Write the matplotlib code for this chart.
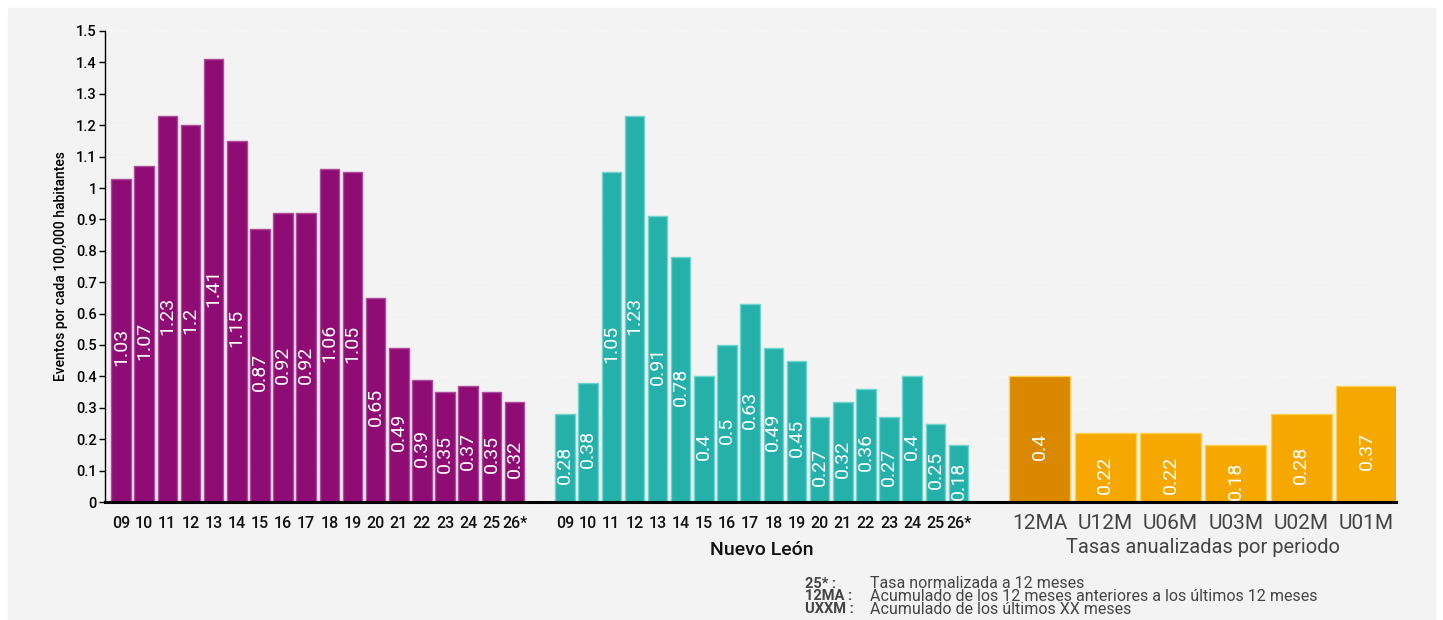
import numpy as np
import matplotlib.pyplot as plt
from matplotlib.patches import Rectangle

plt.rcParams['font.family'] = ['Roboto', 'DejaVu Sans']

years = ["09", "10", "11", "12", "13", "14", "15", "16", "17",
         "18", "19", "20", "21", "22", "23", "24", "25", "26*"]
purple_vals = [1.03, 1.07, 1.23, 1.2, 1.41, 1.15, 0.87, 0.92, 0.92,
               1.06, 1.05, 0.65, 0.49, 0.39, 0.35, 0.37, 0.35, 0.32]
teal_vals = [0.28, 0.38, 1.05, 1.23, 0.91, 0.78, 0.4, 0.5, 0.63,
             0.49, 0.45, 0.27, 0.32, 0.36, 0.27, 0.4, 0.25, 0.18]
periods = ["12MA", "U12M", "U06M", "U03M", "U02M", "U01M"]
period_vals = [0.4, 0.22, 0.22, 0.18, 0.28, 0.37]
yticks = [0, 0.1, 0.2, 0.3, 0.4, 0.5, 0.6, 0.7, 0.8, 0.9, 1.0,
          1.1, 1.2, 1.3, 1.4, 1.5]

notes = [("25* :", "Tasa normalizada a 12 meses"),
         ("12MA :", "Acumulado de los 12 meses anteriores a los últimos 12 meses"),
         ("UXXM :", "Acumulado de los últimos XX meses")]

PURPLE = "#8e0c73"
TEAL = "#25b0aa"
ORANGE_DARK = "#d98800"
ORANGE = "#f7a800"

W, H = 1443, 620
fig = plt.figure(figsize=(W / 100, H / 100), dpi=100)
fig.patches.append(Rectangle((8 / W, 0), (1435 - 8) / W, (H - 8) / H,
                             transform=fig.transFigure, color="#f3f3f3", zorder=-10))

# axes laid out in pixel units on x
x0, x1 = 105, 1396
ax = fig.add_axes([x0 / W, (H - 502) / H, (x1 - x0) / W, 471 / H])
ax.patch.set_alpha(0)
ax.set_xlim(x0, x1)
ax.set_ylim(0, 1.5)

step = 23.15
xp = 121 + step * np.arange(len(years))
xt = 565 + step * np.arange(len(years))
xo = 1040 + 65.3 * np.arange(len(periods))


def draw(xs, vals, colors, width, edge):
    ax.bar(xs, vals, width=width, color=colors, edgecolor=edge,
           linewidth=1.0, joinstyle="round", zorder=2)
    for x, v in zip(xs, vals):
        ax.annotate(f"{v:g}", (x, v / 2), xytext=(0, -5), textcoords="offset points",
                    rotation=90, ha="center", va="center", color="white",
                    fontsize=14, zorder=3)


draw(xp, purple_vals, PURPLE, 19.5, "#b04a9a")
draw(xt, teal_vals, TEAL, 19.5, "#6fd4cd")
draw(xo, period_vals, [ORANGE_DARK] + [ORANGE] * 5, 61, "#fcd050")

for y in yticks[1:]:
    ax.axhline(y, color="#f8f8f8", lw=0.6, ls=(0, (4, 4)), zorder=0)

ax.spines[["top", "right"]].set_visible(False)
ax.spines["bottom"].set_linewidth(2.2)
ax.spines["left"].set_linewidth(1.0)
ax.set_yticks(yticks)
ax.set_yticklabels([f"{t:g}" for t in yticks], fontsize=10.5, fontweight="medium")
ax.tick_params(axis="y", length=4, width=1, pad=2)
ax.set_xticks([])
ax.set_ylabel("Eventos por cada 100,000 habitantes", fontsize=10,
              fontweight="medium", labelpad=6)

trans = ax.get_xaxis_transform()
for xs, labs in ((xp, years), (xt, years)):
    for x, lab in zip(xs, labs):
        ax.text(x, -0.03, lab, transform=trans, ha="center", va="top",
                fontsize=11.5, fontweight="medium", color="#111111")
for x, lab in zip(xo, periods):
    ax.text(x, -0.026, lab, transform=trans, ha="center", va="top",
            fontsize=15, color="#444444")

ax.text(xt.mean(), -0.083, "Nuevo León", transform=trans, ha="center", va="top",
        fontsize=14, fontweight="medium", color="#111111")
ax.text(xo.mean(), -0.076, "Tasas anualizadas por periodo", transform=trans,
        ha="center", va="top", fontsize=14.5, color="#444444")

# footnotes, squeezed a little so the last line stays inside the picture
for i, (k, v) in enumerate(notes):
    yy = (H - 584 - 12.5 * i) / H
    fig.text(805 / W, yy, k, fontsize=10.5, fontweight="bold", color="#444444",
             va="center")
    fig.text(870 / W, yy, v, fontsize=11.5, color="#444444", va="center")

fig.savefig("out.png", dpi=100)
